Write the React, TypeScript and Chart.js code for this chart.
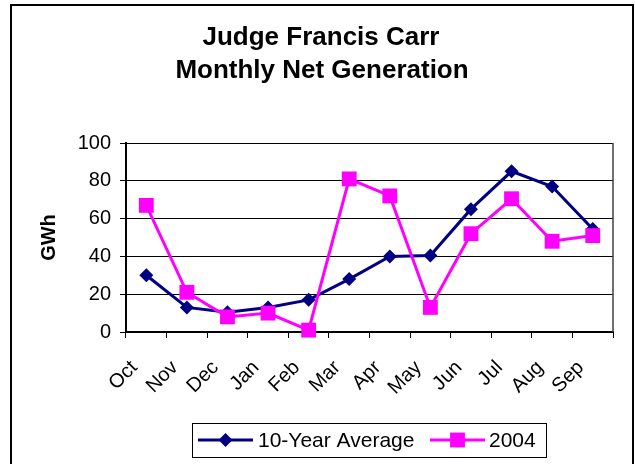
import React, { useEffect, useRef } from 'react';
import { Chart, registerables } from 'chart.js';

Chart.register(...registerables);

const TITLE_LINES = ['Judge Francis Carr', 'Monthly Net Generation'];
const Y_TITLE = 'GWh';
const MONTHS = ['Oct', 'Nov', 'Dec', 'Jan', 'Feb', 'Mar', 'Apr', 'May', 'Jun', 'Jul', 'Aug', 'Sep'];
const TEN_YEAR_AVG = [30, 13, 10.5, 13, 17, 28, 40, 40.5, 65, 85, 77, 54.5];
const Y2004 = [67, 21, 8, 10, 1, 81, 72, 13, 52, 70.5, 48, 51];
const SERIES_NAMES = ['10-Year Average', '2004'];
const Y_MIN = 0;
const Y_MAX = 100;
const Y_STEP = 20;

const FONT = "'Liberation Sans', Arial, Helvetica, sans-serif";
const NAVY = '#000080';
const MAGENTA = '#FF00FF';

function drawMarker(ctx: CanvasRenderingContext2D, style: string, x: number, y: number, r: number, color: string) {
  ctx.fillStyle = color;
  ctx.beginPath();
  if (style === 'rectRot') {
    ctx.moveTo(x - r, y);
    ctx.lineTo(x, y - r);
    ctx.lineTo(x + r, y);
    ctx.lineTo(x, y + r);
  } else {
    const h = r * Math.SQRT1_2;
    ctx.rect(x - h, y - h, 2 * h, 2 * h);
  }
  ctx.closePath();
  ctx.fill();
}

const decor = {
  id: 'decor',
  beforeDraw(chart: any) {
    const { ctx, width, height } = chart;
    ctx.save();
    ctx.fillStyle = '#ffffff';
    ctx.fillRect(0, 0, width, height);
    ctx.restore();
  },
  afterDraw(chart: any) {
    const { ctx, chartArea } = chart;
    ctx.save();
    // outer frame
    ctx.strokeStyle = '#000';
    ctx.lineWidth = 2;
    ctx.strokeRect(11, 5, 622, 480);
    // plot area right edge
    ctx.strokeStyle = '#404040';
    ctx.lineWidth = 1.5;
    ctx.beginPath();
    ctx.moveTo(chartArea.right, chartArea.top);
    ctx.lineTo(chartArea.right, chartArea.bottom);
    ctx.stroke();
    // title
    ctx.fillStyle = '#000';
    ctx.font = `bold 26px ${FONT}`;
    ctx.textAlign = 'center';
    ctx.textBaseline = 'middle';
    ctx.fillText(TITLE_LINES[0], 321, 38);
    ctx.fillText(TITLE_LINES[1], 322, 71);
    // legend
    ctx.strokeStyle = '#000';
    ctx.lineWidth = 1;
    ctx.strokeRect(192.5, 423.5, 354, 34);
    const ly = 440;
    const entries = [
      { x0: 198, x1: 253, tx: 258 },
      { x0: 430, x1: 485, tx: 489 },
    ];
    chart.data.datasets.forEach((ds: any, i: number) => {
      const e = entries[i];
      ctx.strokeStyle = ds.borderColor;
      ctx.lineWidth = ds.borderWidth;
      ctx.beginPath();
      ctx.moveTo(e.x0, ly);
      ctx.lineTo(e.x1, ly);
      ctx.stroke();
      drawMarker(ctx, ds.pointStyle, (e.x0 + e.x1) / 2, ly, ds.pointRadius, ds.borderColor);
      ctx.fillStyle = '#000';
      ctx.font = `21px ${FONT}`;
      ctx.textAlign = 'left';
      ctx.textBaseline = 'middle';
      ctx.fillText(ds.label, e.tx, ly + 1);
    });
    ctx.restore();
  },
};

export default function App() {
  const ref = useRef<HTMLCanvasElement | null>(null);
  useEffect(() => {
    document.body.style.margin = '0';
    const canvas = ref.current;
    if (!canvas) return;
    const chart = new Chart(canvas, {
      type: 'line',
      data: {
        labels: MONTHS,
        datasets: [
          {
            label: SERIES_NAMES[0],
            data: TEN_YEAR_AVG,
            borderColor: NAVY,
            backgroundColor: NAVY,
            borderWidth: 3,
            pointStyle: 'rectRot',
            pointRadius: 7,
            pointBorderWidth: 0,
            pointBackgroundColor: NAVY,
            tension: 0,
            clip: false,
            order: 1,
          } as any,
          {
            label: SERIES_NAMES[1],
            data: Y2004,
            borderColor: MAGENTA,
            backgroundColor: MAGENTA,
            borderWidth: 3,
            pointStyle: 'rect',
            pointRadius: 10.5,
            pointBorderWidth: 0,
            pointBackgroundColor: MAGENTA,
            tension: 0,
            clip: false,
            order: 0,
          } as any,
        ],
      },
      options: {
        animation: false,
        responsive: false,
        devicePixelRatio: 1,
        layout: { padding: { top: 143, right: 22, bottom: 0, left: 0 } },
        plugins: {
          legend: { display: false },
          title: { display: false },
          tooltip: { enabled: false },
        },
        scales: {
          x: {
            type: 'category',
            offset: true,
            grid: { offset: true, drawOnChartArea: false, drawTicks: true, tickLength: 6, color: '#000', lineWidth: 1 },
            border: { color: '#000', width: 2 },
            ticks: {
              color: '#000',
              font: { family: FONT, size: 20 },
              minRotation: 45,
              maxRotation: 45,
              autoSkip: false,
              padding: 18,
              labelOffset: -12,
            },
            afterFit: (s: any) => { s.height = 132; },
          },
          y: {
            min: Y_MIN,
            max: Y_MAX,
            grid: { color: '#000', lineWidth: 1, tickLength: 6 },
            border: { color: '#000', width: 2 },
            ticks: {
              stepSize: Y_STEP,
              color: '#000',
              font: { family: FONT, size: 20 },
              padding: 9,
            },
            title: {
              display: true,
              text: Y_TITLE,
              color: '#000',
              font: { family: FONT, size: 20, weight: 'bold' },
              padding: { top: 37, bottom: 0 },
            },
            afterFit: (s: any) => { s.width = 126; },
          },
        },
      },
      plugins: [decor],
    });
    return () => chart.destroy();
  }, []);
  return (
    <div style={{ width: 635, height: 464 }}>
      <canvas ref={ref} width={635} height={464} style={{ display: 'block' }} />
    </div>
  );
}
